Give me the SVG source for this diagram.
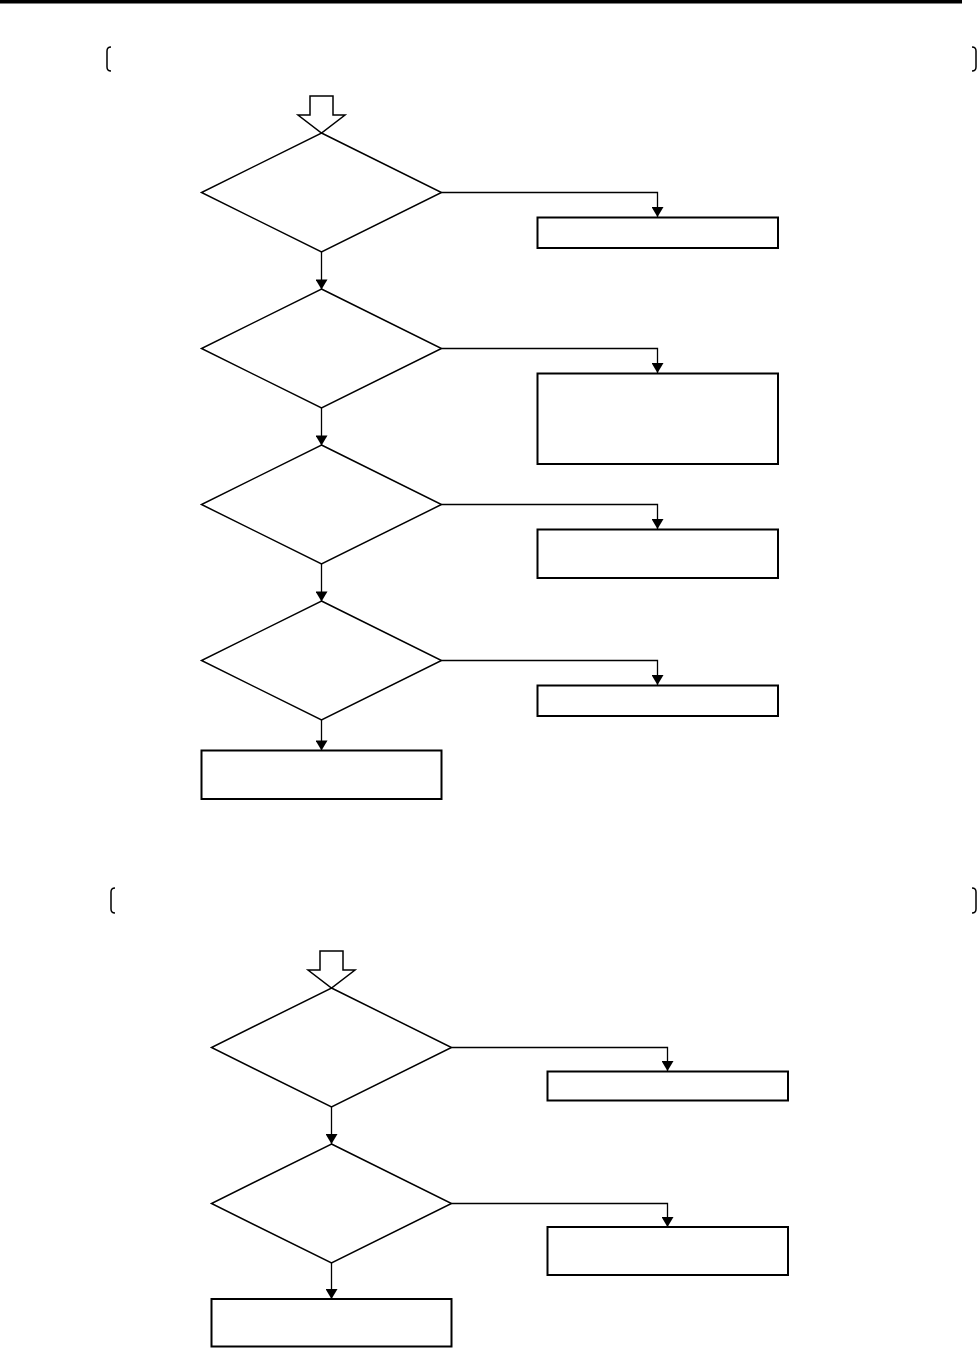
<svg xmlns="http://www.w3.org/2000/svg" width="979" height="1348" viewBox="0 0 979 1348">
<defs>
<marker id="ad" markerUnits="userSpaceOnUse" markerWidth="12" markerHeight="12" refX="10" refY="6" orient="auto" viewBox="0 0 11 12">
<path d="M0,0 L10,6 L0,12 Z" fill="#000"/>
</marker>
</defs>
<style>
.dia{fill:#fff;stroke:#000;stroke-width:1.5}
.box{fill:#fff;stroke:#000;stroke-width:2}
.blk{fill:#fff;stroke:#000;stroke-width:1.5}
.con{fill:none;stroke:#000;stroke-width:1.3}
.arr{marker-end:url(#ad)}
.brk{fill:none;stroke:#000;stroke-width:1.5}
</style>
<rect x="0" y="0" width="962" height="3.5" fill="#000"/>
<g id="brackets">
<path class="brk" d="M111,47 Q107,47 107,51 V67 Q107,71 111,71"/>
<path class="brk" d="M972,47 Q976,47 976,51 V67 Q976,71 972,71"/>
<path class="brk" d="M115,888 Q111,888 111,892 V909 Q111,913 115,913"/>
<path class="brk" d="M972,888 Q976,888 976,892 V909 Q976,913 972,913"/>
</g>
<g id="connectors">
<path class="con arr" d="M321.5,252 V289.5"/>
<path class="con arr" d="M321.5,408 V445.5"/>
<path class="con arr" d="M321.5,564 V601.5"/>
<path class="con arr" d="M321.5,720 V750.5"/>
<path class="con arr" d="M441.5,192.5 H657.5 V217"/>
<path class="con arr" d="M441.5,348.5 H657.5 V373"/>
<path class="con arr" d="M441.5,504.5 H657.5 V529"/>
<path class="con arr" d="M441.5,660.5 H657.5 V685"/>
<path class="con arr" d="M331.5,1107 V1144"/>
<path class="con arr" d="M331.5,1263 V1299"/>
<path class="con arr" d="M451.5,1047.5 H667.5 V1071"/>
<path class="con arr" d="M451.5,1203.5 H667.5 V1227"/>
</g>
<g id="start1"><polygon class="blk" points="310,96 333,96 333,115 345,115 321.5,133 298,115 310,115"/></g>
<g id="d1"><polygon class="dia" points="321.5,133 441.5,192.5 321.5,252 201.5,192.5"/></g>
<g id="d2"><polygon class="dia" points="321.5,289 441.5,348.5 321.5,408 201.5,348.5"/></g>
<g id="d3"><polygon class="dia" points="321.5,445 441.5,504.5 321.5,564 201.5,504.5"/></g>
<g id="d4"><polygon class="dia" points="321.5,601 441.5,660.5 321.5,720 201.5,660.5"/></g>
<g id="b1"><rect class="box" x="537.5" y="217.5" width="240.5" height="30.5"/></g>
<g id="b2"><rect class="box" x="537.5" y="373.5" width="240.5" height="90.5"/></g>
<g id="b3"><rect class="box" x="537.5" y="529.5" width="240.5" height="48.5"/></g>
<g id="b4"><rect class="box" x="537.5" y="685.5" width="240.5" height="30.5"/></g>
<g id="b5"><rect class="box" x="201.5" y="750.5" width="240" height="48.5"/></g>
<g id="start2"><polygon class="blk" points="320,951 343,951 343,970 355,970 331.5,988 308,970 320,970"/></g>
<g id="e1"><polygon class="dia" points="331.5,988 451.5,1047.5 331.5,1107 211.5,1047.5"/></g>
<g id="e2"><polygon class="dia" points="331.5,1144 451.5,1203.5 331.5,1263 211.5,1203.5"/></g>
<g id="c1"><rect class="box" x="547.5" y="1071.5" width="240.5" height="29"/></g>
<g id="c2"><rect class="box" x="547.5" y="1227" width="240.5" height="48"/></g>
<g id="c3"><rect class="box" x="211.5" y="1299" width="240" height="47.5"/></g>
</svg>
